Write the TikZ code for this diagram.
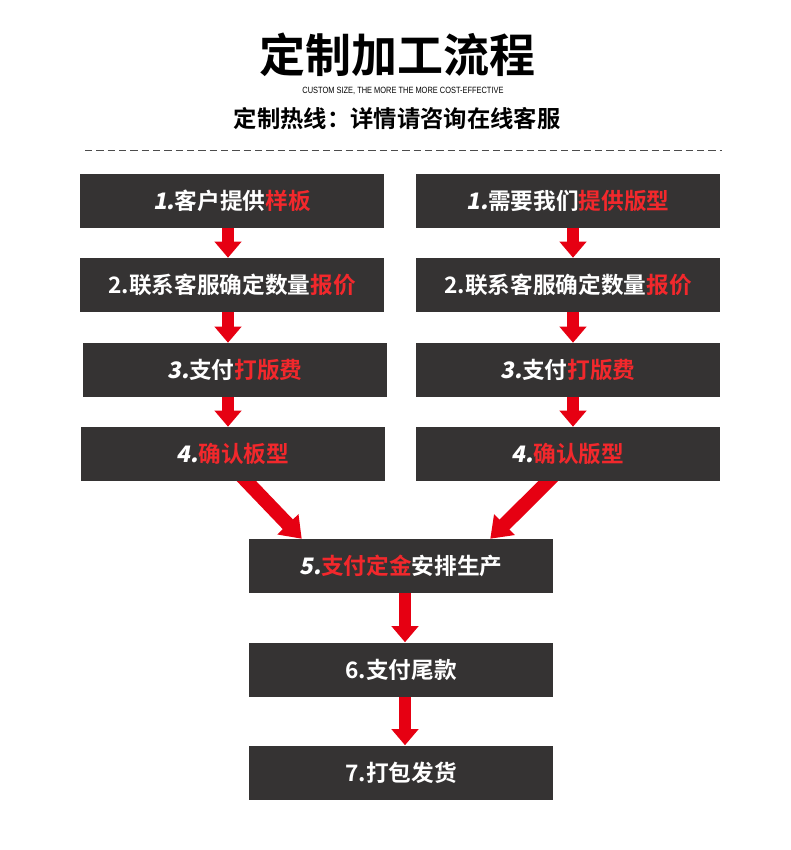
\documentclass[tikz,border=0pt]{standalone}
\usepackage{fontspec}
\usepackage{xcolor}
\usepackage{tikz}
\usetikzlibrary{positioning, arrows.meta, calc, backgrounds}
\newfontfamily\cjk{Noto Sans CJK SC}[BoldFont={Noto Sans CJK SC Bold}]
\newfontfamily\cjknum{Noto Sans CJK SC Bold}[FakeSlant=0.18]
\newfontfamily\latin{Liberation Sans}[FakeStretch=0.82]
\definecolor{boxgrau}{HTML}{353333}
\definecolor{pfeilrot}{HTML}{E60012}
\definecolor{textrot}{HTML}{F2282C}
\newcommand{\rot}[1]{\textcolor{textrot}{#1}}
\newcommand{\nr}[1]{{\cjknum #1}}
\tikzset{
    stage/.style   = {fill=boxgrau, text=white, inner sep=0pt,
                      minimum width=228pt, minimum height=40.5pt,
                      font=\cjk\bfseries\fontsize{17}{20}\selectfont},
    flow/.style    = {-{Triangle[width=19.5pt, length=12pt]}, line width=9pt, draw=pfeilrot},
    slant/.style   = {-{Triangle[width=21pt, length=15pt]}, line width=10.5pt, draw=pfeilrot},
    trenner/.style = {dash pattern=on 5.5pt off 3pt, line width=0.75pt, draw=black!70}
}

\begin{document}
\begin{tikzpicture}[x=0.75pt, y=-0.75pt]
        \useasboundingbox (0,0) rectangle (790,850);

        % Kopf
        \node (titel) at (397,55) {\cjk\bfseries\fontsize{34.5}{40}\selectfont 定制加工流程};
        \node (motto) at (403,91) {\latin\fontsize{6.8}{8}\selectfont CUSTOM SIZE, THE MORE THE MORE COST-EFFECTIVE};
        \node (hotline) at (397,119) {\cjk\bfseries\fontsize{17.5}{20}\selectfont 定制热线：详情请咨询在线客服};
        \coordinate (sl) at (85,150);
        \coordinate (sr) at (722,150);
        \draw[trenner] (sl) -- (sr);

        % linke Spalte
        \node[stage] (l1) at (232,200.5) {\nr{1.}客户提供\rot{样板}};
        \node[stage] (l2) at (232,285)   {2.联系客服确定数量\rot{报价}};
        \node[stage] (l3) at (235,370)   {\nr{3.}支付\rot{打版费}};
        \node[stage] (l4) at (233,454)   {\nr{4.}\rot{确认板型}};

        % rechte Spalte
        \node[stage] (r1) at (568,201)   {\nr{1.}需要我们\rot{提供版型}};
        \node[stage] (r2) at (568,285)   {2.联系客服确定数量\rot{报价}};
        \node[stage] (r3) at (568,370)   {\nr{3.}支付\rot{打版费}};
        \node[stage] (r4) at (568,454)   {\nr{4.}\rot{确认版型}};

        % Mitte
        \node[stage] (c5) at (401,566)   {\nr{5.}\rot{支付定金}安排生产};
        \node[stage] (c6) at (401,669.5) {6.支付尾款};
        \node[stage] (c7) at (401,772.5) {7.打包发货};

        \begin{scope}[on background layer]
            \fill[white] (0,0) rectangle (790,850);
            \draw[flow] ($(l1.south)+(-4,0)$) -- ($(l2.north)+(-4,0)$);
            \draw[flow] ($(l2.south)+(-4,0)$) -- ($(l3.north)+(-7,0)$);
            \draw[flow] ($(l3.south)+(-7,0)$) -- ($(l4.north)+(-5,0)$);
            \draw[flow] ($(r1.south)+(5,0)$) -- ($(r2.north)+(5,0)$);
            \draw[flow] ($(r2.south)+(5,0)$) -- ($(r3.north)+(5,0)$);
            \draw[flow] ($(r3.south)+(5,0)$) -- ($(r4.north)+(5,0)$);
            \draw[slant] ($(l4.south)+(4,-10)$) -- ($(c5.north west)+(53,0)$);
            \draw[slant] ($(r4.south)+(-10,-10)$) -- ($(c5.north east)+(-63,0)$);
            \draw[flow] ($(c5.south)+(4,0)$) -- ($(c6.north)+(4,0)$);
            \draw[flow] ($(c6.south)+(4,0)$) -- ($(c7.north)+(4,0)$);
        \end{scope}
    \end{tikzpicture}
\end{document}
